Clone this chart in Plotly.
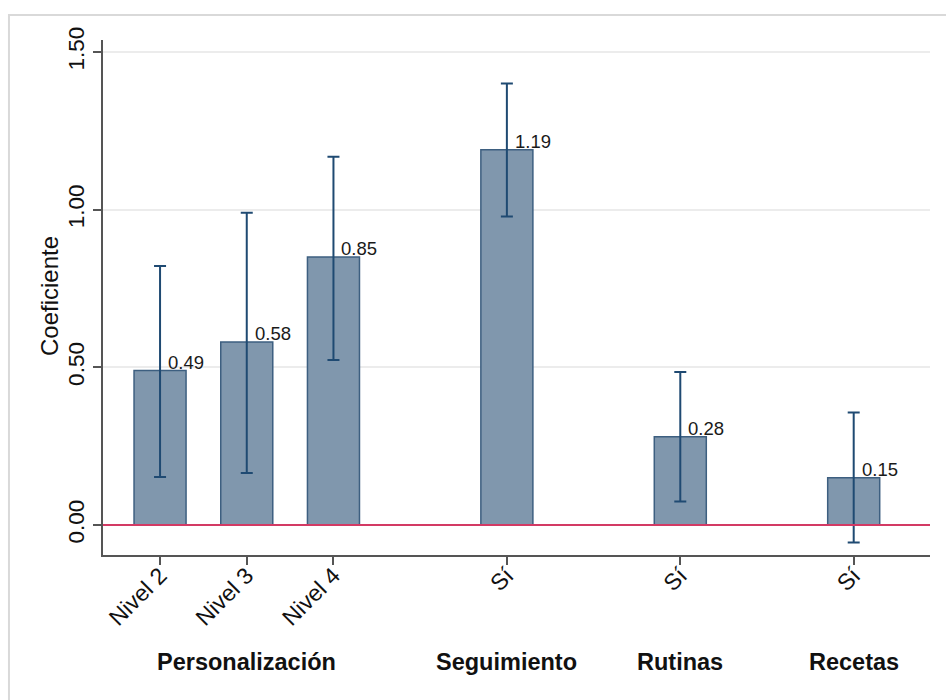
import plotly.graph_objects as go

# Coefficient estimates with 95% confidence intervals
positions = [1, 2, 3, 5, 7, 9]
tick_labels = ["Nivel 2", "Nivel 3", "Nivel 4", "Sí", "Sí", "Sí"]
coef = [0.49, 0.58, 0.85, 1.19, 0.28, 0.15]
ci_low = [0.152, 0.165, 0.523, 0.978, 0.075, -0.055]
ci_high = [0.821, 0.990, 1.168, 1.400, 0.485, 0.357]

group_names = ["Personalización", "Seguimiento", "Rutinas", "Recetas"]
group_centers = [2, 5, 7, 9]

FONT = "Liberation Sans, Arial, sans-serif"

err_plus = [h - c for h, c in zip(ci_high, coef)]
err_minus = [c - l for c, l in zip(coef, ci_low)]

fig = go.Figure()
fig.add_trace(go.Bar(
    x=positions, y=coef, width=0.6,
    marker=dict(color="#8097ad", line=dict(color="#3d5f80", width=1.5)),
    error_y=dict(type="data", symmetric=False, array=err_plus, arrayminus=err_minus,
                 color="#1f4a72", thickness=2, width=6),
    showlegend=False, hoverinfo="skip",
))

# Reference line at zero
fig.add_shape(type="line", xref="paper", yref="y", x0=0, x1=1, y0=0, y1=0,
              line=dict(color="#d33a64", width=2))

# Outer frame
fig.add_shape(type="rect", xref="paper", yref="paper", x0=-0.1137, x1=1.2,
              y0=-0.6, y1=1.0485, line=dict(color="#d9d9d9", width=2), layer="below")

annotations = []
for p, c in zip(positions, coef):
    annotations.append(dict(x=p, y=c, xref="x", yref="y", text=f"{c:.2f}",
                            xanchor="left", yanchor="bottom", xshift=6, yshift=-4,
                            showarrow=False, font=dict(family=FONT, size=18.5, color="#1a1a1a")))
for name, gx in zip(group_names, group_centers):
    annotations.append(dict(x=gx, y=-0.208, xref="x", yref="paper", text=f"<b>{name}</b>",
                            xanchor="center", yanchor="middle", showarrow=False,
                            font=dict(family=FONT, size=23.5, color="#111111")))

# Y axis title
annotations.append(dict(x=-0.064, y=0.503, xref="paper", yref="paper", text="Coeficiente",
                        textangle=-90, xanchor="center", yanchor="middle", showarrow=False,
                        font=dict(family=FONT, size=24, color="#111111")))

fig.update_layout(
    width=946, height=700,
    margin=dict(l=103, r=16, t=40, b=145),
    paper_bgcolor="white", plot_bgcolor="white",
    font=dict(family=FONT, color="#111111"),
    annotations=annotations,
    xaxis=dict(
        range=[0.342, 9.88], tickmode="array", tickvals=positions, ticktext=tick_labels,
        tickangle=-45, tickfont=dict(size=23, family=FONT, color="#111111"),
        ticks="outside", ticklen=8, tickcolor="#555555", tickwidth=1.5,
        ticklabelstandoff=-12,
        showline=True, linecolor="#555555", linewidth=2, showgrid=False, zeroline=False,
    ),
    yaxis=dict(
        range=[-0.095, 1.538], tickmode="array", tickvals=[0, 0.5, 1.0, 1.5],
        tickformat=".2f", tickangle=-90, tickfont=dict(size=22.5, family=FONT, color="#111111"),
        ticks="outside", ticklen=8, tickcolor="#555555", tickwidth=1.5,
        showline=True, linecolor="#555555", linewidth=2,
        showgrid=True, gridcolor="#ececec", gridwidth=1.5, zeroline=False,
    ),
)

fig.write_html("out.html")
